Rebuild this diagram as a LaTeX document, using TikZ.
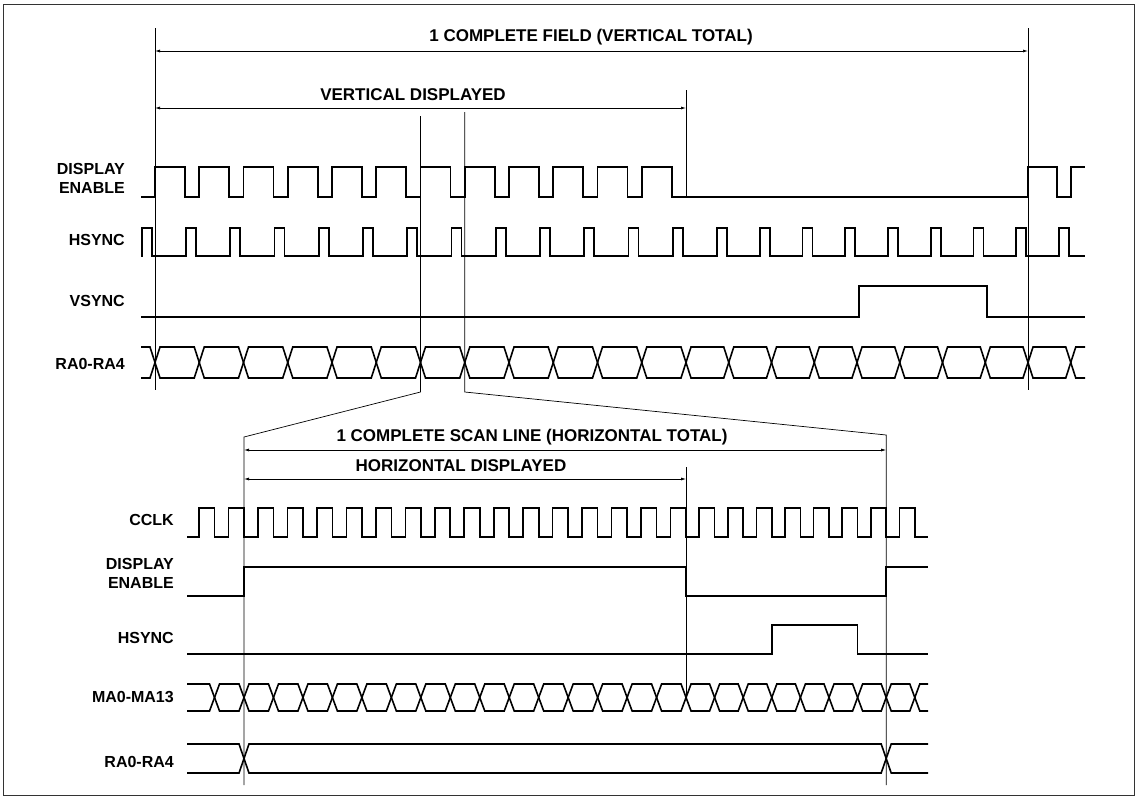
\documentclass[tikz,border=0pt]{standalone}
\usepackage{fontspec}
\setmainfont{Liberation Sans}
\usepackage{tikz}
\usetikzlibrary{arrows.meta, calc, positioning}

\tikzset{
  wave/.style={line width=1.6pt, line join=miter},
  guide/.style={line width=0.7pt},
  frame/.style={line width=1pt, black!80},
  dim/.style={line width=0.7pt, {Latex[length=5pt,width=3pt]}-{Latex[length=5pt,width=3pt]}},
  siglabel/.style={font=\bfseries\fontsize{16}{19}\selectfont, align=right, anchor=east, inner sep=0pt},
  dimlabel/.style={font=\bfseries\fontsize{17}{20}\selectfont, inner sep=0pt},
}

% one bus cell between two crossings: #1 left, #2 right, #3 top, #4 bottom
\newcommand{\buscell}[4]{%
  \pgfmathsetmacro\busmid{(#3+#4)/2}%
  \draw[wave] (#1,\busmid) -- (#1+5,#3) -- (#2-5,#3) -- (#2,\busmid)
    -- (#2-5,#4) -- (#1+5,#4) -- cycle;}
% open ends of a bus
\newcommand{\busstart}[4]{%
  \pgfmathsetmacro\busmid{(#3+#4)/2}%
  \draw[wave] (#1,#3) -- (#2-5,#3) -- (#2,\busmid) -- (#2-5,#4) -- (#1,#4);}
\newcommand{\busend}[4]{%
  \pgfmathsetmacro\busmid{(#3+#4)/2}%
  \draw[wave] (#2,#3) -- (#1+5,#3) -- (#1,\busmid) -- (#1+5,#4) -- (#2,#4);}

\begin{document}
\begin{tikzpicture}[x=1pt, y=-1pt,
  declare function={tx(\k)=(\k<=12)*(155+44.25*\k)+(\k>12)*(686+42.75*(\k-12));
                    bx(\k)=(\k<=15)*(244+29.47*\k)+(\k>15)*(686+28.6*(\k-15));}]
  \useasboundingbox (0,0) rectangle (1141,798);
  \draw[frame] (3,4) rectangle (1134,795);

  % ---- one field ----
  \node[siglabel] (deLabel) at (125,178.5) {DISPLAY\\ENABLE};
  \node[siglabel] (hsLabel) at (125,240) {HSYNC};
  \node[siglabel] (vsLabel) at (125,301) {VSYNC};
  \node[siglabel] (raLabel) at (125,364) {RA0-RA4};

  \draw[wave] (141,197) \foreach \k in {0,...,11}{ -- ({tx(\k)},197) -- ({tx(\k)},167) -- ({tx(\k)+30},167) -- ({tx(\k)+30},197) }
    -- ({tx(20)},197) -- ({tx(20)},167) -- ({tx(20)+29},167) -- ({tx(20)+29},197)
    -- ({tx(21)},197) -- ({tx(21)},167) -- (1085,167);
  \draw[wave] (141,256) \foreach \k in {-1,...,20}{ -- ({tx(\k)+31},256) -- ({tx(\k)+31},228) -- ({tx(\k)+41},228) -- ({tx(\k)+41},256) }
    -- (1085,256);
  \draw[wave] (141,317) -- ({tx(16)+2},317) -- ({tx(16)+2},286) -- ({tx(19)+2},286) -- ({tx(19)+2},317) -- (1085,317);
  \busstart{141}{155}{347}{378}
  \foreach \k in {0,...,20}{
    \pgfmathsetmacro\ca{tx(\k)}
    \pgfmathsetmacro\cb{tx(\k+1)}
    \buscell{\ca}{\cb}{347}{378}
  }
  \pgfmathsetmacro\ca{tx(21)}
  \busend{\ca}{1085}{347}{378}

  % field dimensions
  \coordinate (fieldL) at ({tx(0)},51);
  \coordinate (fieldR) at ({tx(20)},51);
  \coordinate (vdispL) at ({tx(0)},108);
  \coordinate (vdispR) at ({tx(12)},108);
  \draw[dim] (fieldL) -- (fieldR);
  \draw[dim] (vdispL) -- (vdispR);
  \node[dimlabel] (fieldText) at (591,37) {1 COMPLETE FIELD (VERTICAL TOTAL)};
  \node[dimlabel] (vdispText) at (413,95) {VERTICAL DISPLAYED};
  \draw[guide] ({tx(0)},28) -- ({tx(0)},390);
  \draw[guide] ({tx(20)},28) -- ({tx(20)},390);
  \draw[guide] ({tx(12)},90) -- ({tx(12)},197);

  % ---- zoom to one scan line ----
  \coordinate (zoomL) at ({tx(6)},392);
  \coordinate (zoomR) at ({tx(7)},392);
  \coordinate (scanL) at ({bx(0)},437);
  \coordinate (scanR) at ({bx(22)},435);
  \draw[guide] ({tx(6)},116) -- (zoomL) -- (scanL) -- ({bx(0)},785);
  \draw[guide] ({tx(7)},112) -- (zoomR) -- (scanR) -- ({bx(22)},785);

  \coordinate (lineL) at ({bx(0)},450);
  \coordinate (lineR) at ({bx(22)},450);
  \coordinate (hdispL) at ({bx(0)},479);
  \coordinate (hdispR) at ({bx(15)},479);
  \draw[dim] (lineL) -- (lineR);
  \draw[dim] (hdispL) -- (hdispR);
  \node[dimlabel] (lineText) at (532,437) {1 COMPLETE SCAN LINE (HORIZONTAL TOTAL)};
  \node[dimlabel] (hdispText) at (461,466) {HORIZONTAL DISPLAYED};
  \draw[guide] ({bx(15)},467) -- ({bx(15)},697);

  \node[siglabel] (cclkLabel) at (174,520) {CCLK};
  \node[siglabel] (de2Label) at (174,573.5) {DISPLAY\\ENABLE};
  \node[siglabel] (hs2Label) at (174,638) {HSYNC};
  \node[siglabel] (maLabel) at (174,697) {MA0-MA13};
  \node[siglabel] (ra2Label) at (174,762) {RA0-RA4};

  \draw[wave] (187,537) \foreach \j in {-1,...,23}{ -- ({bx(\j)-15.5},537) -- ({bx(\j)-15.5},508) -- ({bx(\j)},508) -- ({bx(\j)},537) }
    -- (928,537);
  \draw[wave] (187,596) -- ({bx(0)},596) -- ({bx(0)},567) -- ({bx(15)},567) -- ({bx(15)},596)
    -- ({bx(22)},596) -- ({bx(22)},567) -- (928,567);
  \draw[wave] (187,654) -- ({bx(18)},654) -- ({bx(18)},625) -- ({bx(21)},625) -- ({bx(21)},654) -- (928,654);
  \pgfmathsetmacro\ca{bx(-1)}
  \busstart{187}{\ca}{684}{711}
  \foreach \j in {-1,...,22}{
    \pgfmathsetmacro\ca{bx(\j)}
    \pgfmathsetmacro\cb{bx(\j+1)}
    \buscell{\ca}{\cb}{684}{711}
  }
  \pgfmathsetmacro\ca{bx(23)}
  \busend{\ca}{928}{684}{711}
  \pgfmathsetmacro\ca{bx(0)}
  \pgfmathsetmacro\cb{bx(22)}
  \busstart{187}{\ca}{744}{773}
  \buscell{\ca}{\cb}{744}{773}
  \busend{\cb}{928}{744}{773}
\end{tikzpicture}
\end{document}
